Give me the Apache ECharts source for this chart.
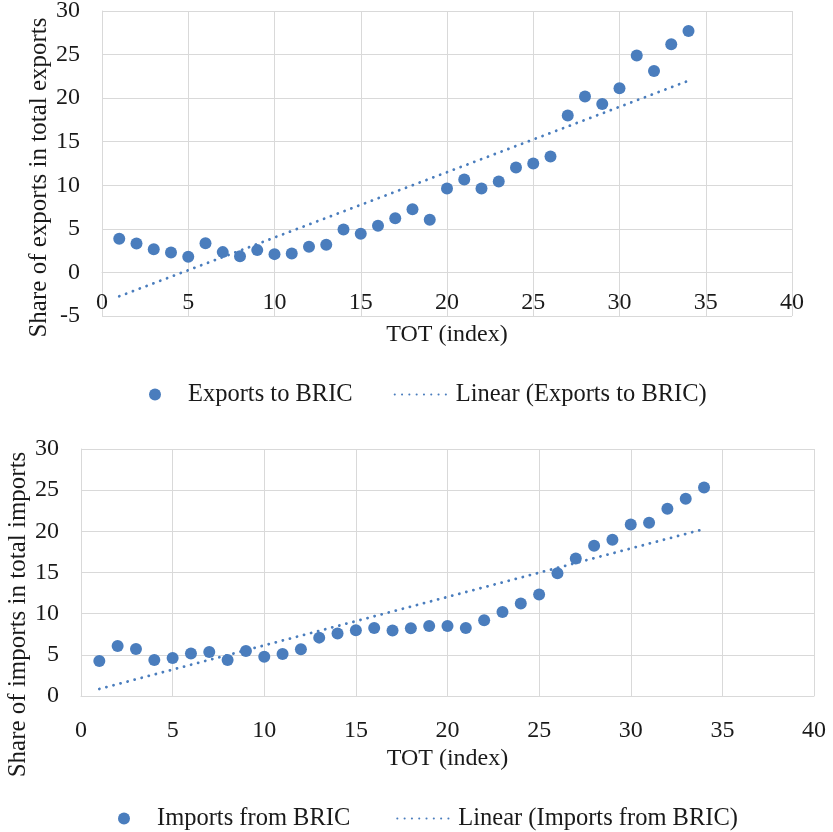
<!DOCTYPE html>
<html>
<head>
<meta charset="utf-8">
<title>BRIC trade shares vs TOT</title>
<script src="https://cdn.jsdelivr.net/npm/echarts@6/dist/echarts.min.js"></script>
<style>
  html, body { margin: 0; padding: 0; background: #ffffff; }
  #chart { width: 833px; height: 832px; }
</style>
</head>
<body>
<div id="chart"></div>
<script>
// TOT index observations (x) shared by both panels
const totIndex = [1, 2, 3, 4, 5, 6, 7, 8, 9, 10, 11, 12, 13, 14, 15, 16, 17,
                  18, 19, 20, 21, 22, 23, 24, 25, 26, 27, 28, 29, 30, 31, 32, 33, 34];

// Share of exports going to BRIC (%)
const exportsToBric = [3.86, 3.32, 2.67, 2.29, 1.80, 3.36, 2.33, 1.87, 2.56, 2.10, 2.18, 2.94,
                       3.17, 4.93, 4.43, 5.35, 6.23, 7.26, 6.04, 9.63, 10.66, 9.63, 10.43, 12.04,
                       12.50, 13.30, 18.00, 20.18, 19.34, 21.13, 24.88, 23.12, 26.18, 27.70];

// Share of imports coming from BRIC (%)
const importsFromBric = [4.26, 6.08, 5.72, 4.38, 4.62, 5.15, 5.35, 4.38, 5.47, 4.78, 5.11, 5.68,
                         7.09, 7.58, 7.99, 8.27, 7.95, 8.23, 8.51, 8.51, 8.27, 9.20, 10.21, 11.23,
                         12.32, 14.92, 16.70, 18.24, 18.97, 20.84, 21.04, 22.74, 23.96, 25.33];

// Axis ranges and tick steps
const xRange = [0, 40];
const xStep = 5;
const exportsYRange = [-5, 30];
const importsYRange = [0, 30];
const yStep = 5;

// Labels
const seriesNames = ['Exports to BRIC', 'Imports from BRIC'];
const trendNames = ['Linear (Exports to BRIC)', 'Linear (Imports from BRIC)'];
const xTitle = 'TOT (index)';
const yTitles = ['Share of exports in total exports', 'Share of imports in total imports'];

// Ordinary least-squares line over the observed range
function linearTrend(xs, ys) {
  const n = xs.length;
  const mx = xs.reduce((a, b) => a + b, 0) / n;
  const my = ys.reduce((a, b) => a + b, 0) / n;
  let sxy = 0, sxx = 0;
  for (let i = 0; i < n; i++) {
    sxy += (xs[i] - mx) * (ys[i] - my);
    sxx += (xs[i] - mx) * (xs[i] - mx);
  }
  const slope = sxy / sxx;
  const icpt = my - slope * mx;
  const x0 = Math.min(...xs), x1 = Math.max(...xs);
  return [[x0, icpt + slope * x0], [x1, icpt + slope * x1]];
}

const pairs = (xs, ys) => xs.map((x, i) => [x, ys[i]]);

const BLUE = '#4a7dbd';
const GRID = '#d9d9d9';
const TEXT = '#1a1a1a';
const FONT = '"Liberation Serif", "Times New Roman", serif';
const FS = 24;
const FS_TITLE = 25;
const FS_LEGEND = 24.5;

// Plot rectangles
const topGrid = { left: 102, top: 11, width: 690, height: 305 };
const bottomGrid = { left: 81, top: 449, width: 733, height: 247 };

// Horizontal axis sits on the y = 0 line (crossing point), so shift it up from the bottom edge
function zeroOffset(grid, yRange) {
  return -grid.height * (0 - yRange[0]) / (yRange[1] - yRange[0]);
}

function xAxisCfg(gridIndex, labelMargin, offset, nameGap) {
  return {
    type: 'value', gridIndex,
    min: xRange[0], max: xRange[1], interval: xStep,
    position: 'bottom', offset,
    axisLine: { show: true, onZero: false, lineStyle: { color: GRID, width: 1 } },
    axisTick: { show: false },
    axisLabel: { margin: labelMargin, fontSize: FS, color: TEXT, fontFamily: FONT },
    splitLine: { show: true, lineStyle: { color: GRID, width: 1 } },
    name: xTitle, nameLocation: 'middle', nameGap, nameMoveOverlap: false,
    nameTextStyle: { fontSize: FS, color: TEXT, fontFamily: FONT }
  };
}

function yAxisCfg(gridIndex, range, title, shift) {
  return {
    type: 'value', gridIndex,
    min: range[0], max: range[1], interval: yStep,
    axisLine: { show: true, onZero: false, lineStyle: { color: GRID, width: 1 } },
    axisTick: { show: false },
    axisLabel: { margin: 22, fontSize: FS, color: TEXT, fontFamily: FONT },
    splitLine: { show: true, lineStyle: { color: GRID, width: 1 } },
    name: title, nameLocation: 'middle', nameGap: 50, nameMoveOverlap: false,
    nameTextStyle: { fontSize: FS_TITLE, color: TEXT, fontFamily: FONT, padding: [0, shift, 0, 0] }
  };
}

const dotted = { color: BLUE, width: 2.8, type: [0.1, 7.2], cap: 'round' };

function legendCfg(names, left, top, gap) {
  return {
    data: [
      { name: names[0], icon: 'circle' },
      { name: names[1], itemStyle: { opacity: 0 } }
    ],
    left, top,
    itemWidth: 56, itemHeight: 12, itemGap: gap,
    textStyle: { fontSize: FS_LEGEND, color: TEXT, fontFamily: FONT },
    selectedMode: false
  };
}

const chart = echarts.init(document.getElementById('chart'), null, { renderer: 'canvas' });

chart.setOption({
  backgroundColor: '#ffffff',
  animation: false,
  grid: [
    Object.assign({ containLabel: false, outerBoundsMode: 'none' }, topGrid),
    Object.assign({ containLabel: false, outerBoundsMode: 'none' }, bottomGrid)
  ],
  xAxis: [
    xAxisCfg(0, 18, zeroOffset(topGrid, exportsYRange), 50),
    xAxisCfg(1, 23, zeroOffset(bottomGrid, importsYRange), 51)
  ],
  yAxis: [
    yAxisCfg(0, exportsYRange, yTitles[0], 28),
    yAxisCfg(1, importsYRange, yTitles[1], 84)
  ],
  legend: [
    legendCfg([seriesNames[0], trendNames[0]], 144, 377, 41),
    legendCfg([seriesNames[1], trendNames[1]], 113, 801, 46)
  ],
  series: [
    {
      name: seriesNames[0], type: 'scatter', xAxisIndex: 0, yAxisIndex: 0,
      symbol: 'circle', symbolSize: 12, itemStyle: { color: BLUE, opacity: 1 },
      data: pairs(totIndex, exportsToBric)
    },
    {
      name: trendNames[0], type: 'line', xAxisIndex: 0, yAxisIndex: 0,
      symbol: 'none', showSymbol: false, lineStyle: dotted, itemStyle: { color: BLUE },
      data: linearTrend(totIndex, exportsToBric)
    },
    {
      name: seriesNames[1], type: 'scatter', xAxisIndex: 1, yAxisIndex: 1,
      symbol: 'circle', symbolSize: 12, itemStyle: { color: BLUE, opacity: 1 },
      data: pairs(totIndex, importsFromBric)
    },
    {
      name: trendNames[1], type: 'line', xAxisIndex: 1, yAxisIndex: 1,
      symbol: 'none', showSymbol: false, lineStyle: dotted, itemStyle: { color: BLUE },
      data: linearTrend(totIndex, importsFromBric)
    }
  ]
});
</script>
</body>
</html>
